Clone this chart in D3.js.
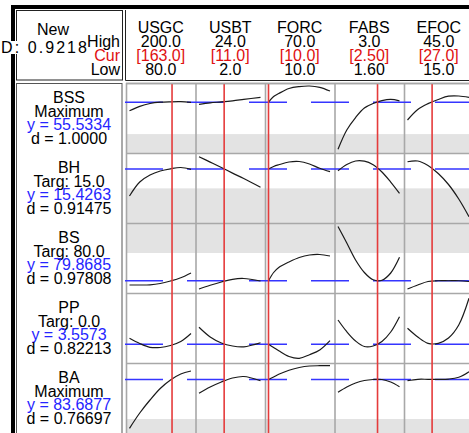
<!DOCTYPE html>
<html>
<head>
<meta charset="utf-8">
<script src="https://cdn.jsdelivr.net/npm/d3@7"></script>
<style>
body { margin: 0; background: #fff; }
svg { display: block; font-family: "Liberation Sans", Arial, sans-serif; }
</style>
</head>
<body>
<svg width="469" height="433"></svg>
<script>
var width = 469;
var height = 433;

// factors (columns)
var factors = ["USGC", "USBT", "FORC", "FABS", "EFOC"];
var lows = [80, 2, 10, 1.6, 15];
var highs = [200, 24, 70, 3.0, 45];
var curs = [163, 11, 10, 2.5, 27];
var highLabels = ["200.0", "24.0", "70.0", "3.0", "45.0"];
var curLabels = ["[163.0]", "[11.0]", "[10.0]", "[2.50]", "[27.0]"];
var lowLabels = ["80.0", "2.0", "10.0", "1.60", "15.0"];

// responses (rows)
var responses = ["BSS", "BH", "BS", "PP", "BA"];
var goals = ["Maximum", "Targ: 15.0", "Targ: 80.0", "Targ: 0.0", "Maximum"];
var predicted = [55.5334, 15.4263, 79.8685, 3.5573, 83.6877];
var desirability = ["1.0000", "0.91475", "0.97808", "0.82213", "0.76697"];
var yDomains = [[41, 61], [0, 20], [75, 103], [-5, 27], [60, 91]];
var shaded = [[41, 46.4], [0, 9.9], [91, 103], null, [60, 66.2]];

// factor settings where each curve was read
var xGrid = [
    [80, 100, 120, 140, 160, 180, 200],
    [2, 6, 10, 14, 18, 24],
    [10, 15, 20, 30, 40, 50, 60, 70],
    [1.6, 1.8, 2.0, 2.2, 2.4, 2.6, 2.8, 3.0],
    [15, 20, 25, 30, 35, 40, 45]
];

var bssCurves = [
    [53.09, 54.34, 55.14, 55.51, 55.63, 55.66, 55.49],
    [54.91, 55.34, 55.60, 55.91, 56.31, 56.91],
    [55.53, 57.14, 58.0, 59.43, 59.97, 60.14, 59.77, 58.71],
    [42.06, 47.57, 51.14, 53.86, 55.15, 55.95, 56.3, 55.9],
    [50.43, 53.43, 55.1, 56.3, 57.23, 57.29, 56.91]
];
var bhCurves = [
    [7.71, 11.71, 13.71, 14.86, 15.49, 15.86, 15.34],
    [18.94, 17.4, 15.85, 14.25, 12.7, 10.2],
    [15.43, 16.14, 16.63, 17.43, 17.57, 16.86, 15.63, 14.66],
    [14.94, 16.71, 17.71, 17.66, 16.63, 14.57, 11.71, 8.49],
    [17.51, 17.71, 16.43, 14.14, 11.0, 6.86, 1.8]
];
var bsCurves = [
    [78.2, 78.2, 78.28, 78.8, 79.8, 81.08, 83.0],
    [76.6, 78.08, 79.4, 80.48, 80.8, 79.8],
    [79.87, 83.2, 85.2, 87.4, 89.2, 90.2, 90.4, 89.8],
    [101.6, 95.0, 88.2, 83.2, 80.3, 80.1, 83.0, 89.28],
    [76.6, 78.2, 79.6, 79.9, 79.9, 79.9, 79.6]
];
var ppCurves = [
    [6.29, 3.91, 2.18, 2.09, 3.0, 4.83, 8.49],
    [11.32, 6.89, 4.14, 2.77, 2.41, 4.28],
    [3.56, 2.09, 0.62, -2.03, -2.85, -1.21, 0.94, 5.19],
    [14.66, 9.31, 5.06, 2.54, 2.77, 4.83, 9.17, 16.17],
    [10.86, 6.89, 4.0, 4.0, 6.43, 12.37, 24.58]
];
var baCurves = [
    [62.08, 68.86, 74.61, 79.71, 83.47, 86.13, 87.46],
    [77.58, 80.37, 82.59, 84.36, 85.02, 83.16],
    [83.69, 84.8, 86.0, 87.77, 89.0, 89.67, 89.8, 89.8],
    [78.02, 80.37, 82.14, 83.25, 83.69, 83.69, 82.59, 80.5],
    [83.16, 83.78, 83.78, 83.78, 83.9, 84.7, 87.15]
];
var curves = [bssCurves, bhCurves, bsCurves, ppCurves, baCurves];

var plotLeft = 126;
var plotTop = 83;
var colW = 69.5;
var rowH = 70;

var colScale = d3.scaleBand()
                .domain(factors)
                .range([plotLeft, plotLeft + colW * factors.length]);
var rowScale = d3.scaleBand()
                .domain(responses)
                .range([plotTop, plotTop + rowH * responses.length]);

var xScales = factors.map((f, i) => d3.scaleLinear()
                .domain([lows[i], highs[i]])
                .range([colScale(f) + 3.5, colScale(f) + 65]));
var yScales = responses.map((r, j) => d3.scaleLinear()
                .domain(yDomains[j])
                .range([rowScale(r) + rowH, rowScale(r)]));

var svg = d3.select("svg");

svg.append("rect")
    .attr("width", width)
    .attr("height", height)
    .attr("fill", "#fff");

// shaded bands
responses.forEach((r, j) => {
    if (!shaded[j]) return;
    var ys = yScales[j];
    svg.append("rect")
        .attr("x", plotLeft)
        .attr("y", ys(shaded[j][1]))
        .attr("width", width - plotLeft)
        .attr("height", ys(shaded[j][0]) - ys(shaded[j][1]))
        .attr("fill", "#e3e3e3");
});

// grid
svg.selectAll(".vgrid")
    .data(factors)
  .enter()
  .append("line")
    .attr("x1", d => colScale(d) + 0.5)
    .attr("x2", d => colScale(d) + 0.5)
    .attr("y1", plotTop)
    .attr("y2", height)
    .attr("stroke", "#a8a8a8")
    .attr("stroke-width", 1.6);
svg.selectAll(".hgrid")
    .data(responses)
  .enter()
  .append("line")
    .attr("x1", plotLeft)
    .attr("x2", width)
    .attr("y1", d => rowScale(d) + 0.5)
    .attr("y2", d => rowScale(d) + 0.5)
    .attr("stroke", "#a8a8a8")
    .attr("stroke-width", 1.6);

// predicted value lines
svg.selectAll(".pred")
    .data(responses)
  .enter()
  .append("line")
    .attr("x1", plotLeft - 1)
    .attr("x2", width)
    .attr("y1", (d, j) => yScales[j](predicted[j]))
    .attr("y2", (d, j) => yScales[j](predicted[j]))
    .attr("stroke", "#3535ff")
    .attr("stroke-width", 1.5)
    .attr("stroke-dasharray", "38,24");

// profile curves
responses.forEach((r, j) => {
    factors.forEach((f, i) => {
        var pts = xGrid[i].map((x, k) => [x, curves[j][i][k]]);
        var line = d3.line()
                    .x(d => xScales[i](d[0]))
                    .y(d => yScales[j](d[1]))
                    .curve(d3.curveCatmullRom);
        svg.append("path")
            .attr("d", line(pts))
            .attr("fill", "none")
            .attr("stroke", "#1a1a1a")
            .attr("stroke-width", 1.2);
    });
});

// current settings
svg.selectAll(".cur")
    .data(factors)
  .enter()
  .append("line")
    .attr("x1", (d, i) => xScales[i](curs[i]))
    .attr("x2", (d, i) => xScales[i](curs[i]))
    .attr("y1", plotTop)
    .attr("y2", height)
    .attr("stroke", "#e53b3b")
    .attr("stroke-width", 1.6);

// frame
svg.append("line")
    .attr("x1", 13).attr("x2", 13)
    .attr("y1", 5).attr("y2", height)
    .attr("stroke", "#000").attr("stroke-width", 4);
svg.append("line")
    .attr("x1", 11).attr("x2", width)
    .attr("y1", 7).attr("y2", 7)
    .attr("stroke", "#000").attr("stroke-width", 4);
svg.append("rect")
    .attr("x", 16.5).attr("y", 10.5)
    .attr("width", 106).attr("height", 69.5)
    .attr("fill", "none").attr("stroke", "#222");
svg.append("path")
    .attr("d", `M125.5,10 V80.5 H${width}`)
    .attr("fill", "none").attr("stroke", "#222");
svg.append("rect")
    .attr("x", 16.5).attr("y", 83.5)
    .attr("width", 105.5).attr("height", 400)
    .attr("fill", "none").attr("stroke", "#555");
svg.append("line")
    .attr("x1", plotLeft).attr("x2", width)
    .attr("y1", plotTop + 0.5).attr("y2", plotTop + 0.5)
    .attr("stroke", "#a8a8a8").attr("stroke-width", 1.6);

// header texts
var header = svg.append("g").attr("font-size", "16px");
header.append("text")
    .attr("x", 53).attr("y", 35)
    .attr("text-anchor", "middle")
    .text("New");
var dText = header.append("text")
    .attr("x", 1).attr("y", 53)
    .attr("textLength", 86)
    .attr("lengthAdjust", "spacing")
    .text("D: 0.9218");
var bb = dText.node().getBBox();
header.insert("rect", "text")
    .attr("x", bb.x).attr("y", bb.y + 2)
    .attr("width", 20).attr("height", bb.height - 4)
    .attr("fill", "#fff");
header.append("text")
    .attr("x", 120).attr("y", 46.5)
    .attr("text-anchor", "end")
    .text("High");
header.append("text")
    .attr("x", 120).attr("y", 60.5)
    .attr("text-anchor", "end")
    .attr("fill", "#e01010")
    .text("Cur");
header.append("text")
    .attr("x", 120).attr("y", 75)
    .attr("text-anchor", "end")
    .text("Low");

var colHead = header.selectAll(".colhead")
    .data(factors)
  .enter()
  .append("g")
    .attr("transform", d => `translate(${colScale(d) + colW / 2},0)`)
    .attr("text-anchor", "middle");
colHead.append("text").attr("y", 32.5).text(d => d);
colHead.append("text").attr("y", 46.5).text((d, i) => highLabels[i]);
colHead.append("text").attr("y", 60.5).attr("fill", "#e01010").text((d, i) => curLabels[i]);
colHead.append("text").attr("y", 75).text((d, i) => lowLabels[i]);

// row labels
var rowLab = svg.selectAll(".rowlab")
    .data(responses)
  .enter()
  .append("g")
    .attr("transform", d => `translate(69,${rowScale(d)})`)
    .attr("text-anchor", "middle")
    .attr("font-size", "16px");
rowLab.append("text").attr("y", 19.5).text(d => d);
rowLab.append("text").attr("y", 33.5).text((d, j) => goals[j]);
rowLab.append("text").attr("y", 47).attr("fill", "#2525ff")
    .text((d, j) => "y = " + predicted[j].toFixed(4));
rowLab.append("text").attr("y", 61)
    .text((d, j) => "d = " + desirability[j]);
</script>
</body>
</html>
